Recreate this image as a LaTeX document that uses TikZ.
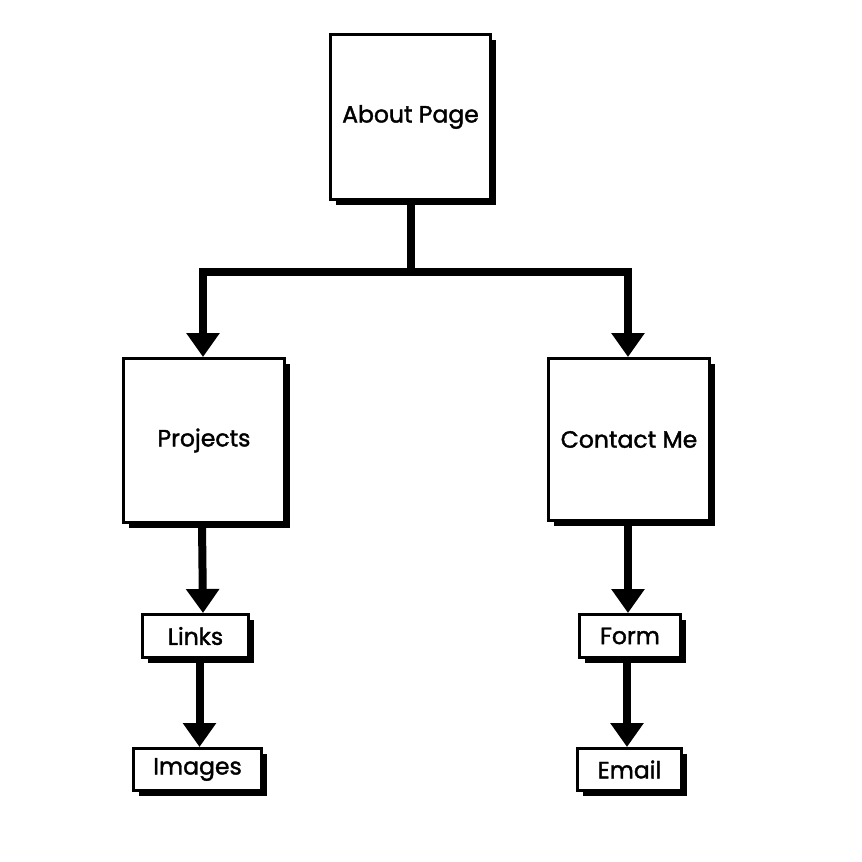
\documentclass[tikz,border=0pt]{standalone}
\usepackage{fontspec}
\newfontfamily\boxfont{Poppins}[FakeBold=1.6]
\usetikzlibrary{arrows.meta}
\tikzset{
  box/.style={draw=black, line width=3pt, fill=white, inner sep=0pt, anchor=north west, font=\boxfont\fontsize{23.5}{26}\selectfont},
  conn/.style={line width=8pt},
  arr/.style={line width=8pt, -{Triangle[width=32pt,length=24pt]}},
}
\newcommand{\shbox}[6]{% name, x, y, w, h, text
  \fill[black] (#2+7,#3+7) rectangle ++(#4,#5);
  \node[box, minimum width=#4pt, minimum height=#5pt] (#1) at (#2,#3) {#6};
}
\begin{document}
\begin{tikzpicture}[x=1pt,y=-1pt]
\useasboundingbox (0,0) rectangle (862,862);
\fill[white] (0,0) rectangle (862,862);
\shbox{about}{329}{33}{160}{165}{About Page}
\shbox{proj}{122}{357}{161}{164}{Projects}
\shbox{contact}{547}{357}{161}{162}{Contact Me}
\shbox{links}{141}{613}{106}{43}{Links}
\shbox{images}{132}{747}{128}{42}{Images}
\shbox{form}{578}{613}{101}{43}{Form}
\shbox{email}{576}{747}{104}{42}{Email}
\coordinate (j) at (411,272);
\coordinate (jl) at (203,272);
\coordinate (jr) at (628,272);
\draw[conn] (about.south -| j) -- (j);
\draw[conn, line cap=rect] (jl) -- (jr);
\draw[arr] (jl) -- (jl |- proj.north);
\draw[arr] (jr) -- (jr |- contact.north);
\draw[arr] ([xshift=-2pt]proj.south |- 0,524) -- ([xshift=-1pt]proj.south |- links.north);
\draw[arr] ([xshift=4pt]links.south |- 0,659) -- ([xshift=4pt]links.south |- images.north);
\draw[arr] (628,523) -- (628,613);
\draw[arr] (627,658) -- (627,747);
\end{tikzpicture}
\end{document}
